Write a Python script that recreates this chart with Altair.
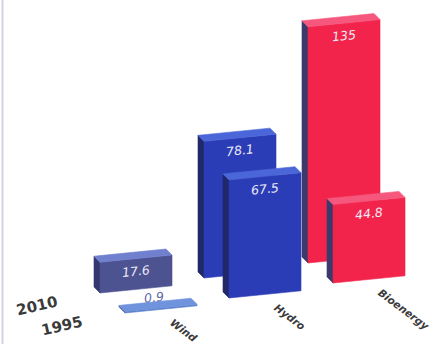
import altair as alt
import pandas as pd

# ---- data ----
categories = ["Wind", "Hydro", "Bioenergy"]
years = ["2010", "1995"]          # back row, front row
values_2010 = [17.6, 78.1, 135]
values_1995 = [0.9, 67.5, 44.8]
value_labels_2010 = ["17.6", "78.1", "135"]
value_labels_1995 = ["0.9", "67.5", "44.8"]

# ---- layout (pseudo 3-D projection) ----
W, H = 441, 344
PX = 1.75                      # pixels per value unit
X0, CAT_DX, ROW_DX = 100, 104, 25
Y0, CAT_DY, ROW_DY = 293, -15, 20
FACE_W = 72
SLOPE = 0.1                    # face edges rise 0.1 px per px
DEPTH_X, DEPTH_Y = 6, 6

KK = SLOPE / PX                # units per px
DV = DEPTH_Y / PX

color_domain, color_range = [], []
palette = {
    ("Wind", "2010"): ("#33376e", "#4d5291", "#7080cf"),
    ("Wind", "1995"): ("#4a5fa8", "#5a7fcc", "#6f93dc"),
    ("Hydro", "2010"): ("#20286a", "#2b3db6", "#4a66d8"),
    ("Hydro", "1995"): ("#20286a", "#2b3db6", "#4a66d8"),
    ("Bioenergy", "2010"): ("#3c3a6c", "#f2244c", "#f5587c"),
    ("Bioenergy", "1995"): ("#3c3a6c", "#f2244c", "#f5587c"),
}

faces = {"side": [], "front": [], "top": []}
val_labels = []
cat_labels = []
year_labels = []

for s, (yr, vals, labs) in enumerate(zip(years, [values_2010, values_1995],
                                          [value_labels_2010, value_labels_1995])):
    for c, (cat, v, lab) in enumerate(zip(categories, vals, labs)):
        xl = X0 + c * CAT_DX + s * ROW_DX
        xr = xl + FACE_W
        base_px = Y0 + c * CAT_DY + s * ROW_DY
        b = (H - base_px) / PX          # baseline (units) at front-left
        T = b + v
        bar = f"{cat}|{yr}"
        side_c, front_c, top_c = palette[(cat, yr)]
        for face, col in (("side", side_c), ("front", front_c), ("top", top_c)):
            color_domain.append(f"{face}|{bar}")
            color_range.append(col)
        d = DEPTH_X
        faces["side"] += [
            dict(bar=bar, key=f"side|{bar}", row=s, x=xl - d, lo=b + DV, hi=T + DV),
            dict(bar=bar, key=f"side|{bar}", row=s, x=xl, lo=b, hi=T),
        ]
        faces["front"] += [
            dict(bar=bar, key=f"front|{bar}", row=s, x=xl, lo=b, hi=T),
            dict(bar=bar, key=f"front|{bar}", row=s, x=xr, lo=b + KK * FACE_W, hi=T + KK * FACE_W),
        ]
        faces["top"] += [
            dict(bar=bar, key=f"top|{bar}", row=s, x=xl - d, lo=T + DV, hi=T + DV),
            dict(bar=bar, key=f"top|{bar}", row=s, x=xl, lo=T, hi=T + KK * d + DV),
            dict(bar=bar, key=f"top|{bar}", row=s, x=xr - d, lo=T + KK * (FACE_W - d), hi=T + KK * FACE_W + DV),
            dict(bar=bar, key=f"top|{bar}", row=s, x=xr, lo=T + KK * FACE_W, hi=T + KK * FACE_W),
        ]
        xc = (xl + xr) / 2
        top_c_units = T + KK * FACE_W / 2
        inside = v * PX > 25
        val_labels.append(dict(
            x=xc - (0 if inside else 7),
            y=top_c_units - (13 / PX if inside else -10 / PX),
            text=lab, inside=inside))
        if s == 1:
            cat_labels.append(dict(x=xr - 26, y=b + KK * FACE_W - 16 / PX, text=cat))
        if c == 0:
            year_labels.append(dict(x=xl - 63, y=b - 13 / PX, text=yr))

xs = alt.Scale(domain=[0, W], range=[0, W], nice=False, zero=False)
ys = alt.Scale(domain=[0, H / PX], range=[H, 0], nice=False, zero=False)
cs = alt.Scale(domain=color_domain, range=color_range)


def face_layer(rows):
    df = pd.DataFrame(rows)
    return alt.Chart(df).mark_area(strokeWidth=0.6, interpolate="linear", opacity=1).encode(
        x=alt.X("x:Q", scale=xs, axis=None),
        y=alt.Y("lo:Q", scale=ys, axis=None, stack=None),
        y2="hi:Q",
        color=alt.Color("key:N", scale=cs, legend=None),
        stroke=alt.Stroke("key:N", scale=cs, legend=None),
        detail="bar:N",
    )


layers = []
for s in (0, 1):
    for face in ("side", "front", "top"):
        layers.append(face_layer([r for r in faces[face] if r["row"] == s]))


def text_layer(df, angle, color, size, weight="normal", style="italic", align="center"):
    return alt.Chart(df).mark_text(
        font="DejaVu Sans", fontSize=size, fontStyle=style, fontWeight=weight,
        align=align, baseline="middle", angle=angle, color=color,
    ).encode(
        x=alt.X("x:Q", scale=xs, axis=None),
        y=alt.Y("y:Q", scale=ys, axis=None),
        text="text:N",
    )


vl = pd.DataFrame(val_labels)
inside_text = text_layer(vl[vl["inside"]].drop(columns="inside"), 354, "#ececf8", 12.5)
outside_text = text_layer(vl[~vl["inside"]].drop(columns="inside"), 354, "#5d6aa8", 12.5)
cat_text = text_layer(pd.DataFrame(cat_labels), 37, "#3a3a3a", 10.5, weight="bold", align="left")
year_text = text_layer(pd.DataFrame(year_labels), 347, "#3a3a3a", 15, weight="bold", style="normal")

frame = alt.Chart(pd.DataFrame({"a": [0]})).mark_rule(color="#d2d2e2", strokeWidth=2).encode(
    x=alt.value(2.5), y=alt.value(0), y2=alt.value(H))

chart = alt.layer(frame, *layers, inside_text, outside_text, cat_text, year_text).properties(
    width=W, height=H, autosize="none", padding=0, background="white"
).configure_view(stroke=None)

chart.save("out.html", embed_options={"renderer": "svg", "actions": False})
